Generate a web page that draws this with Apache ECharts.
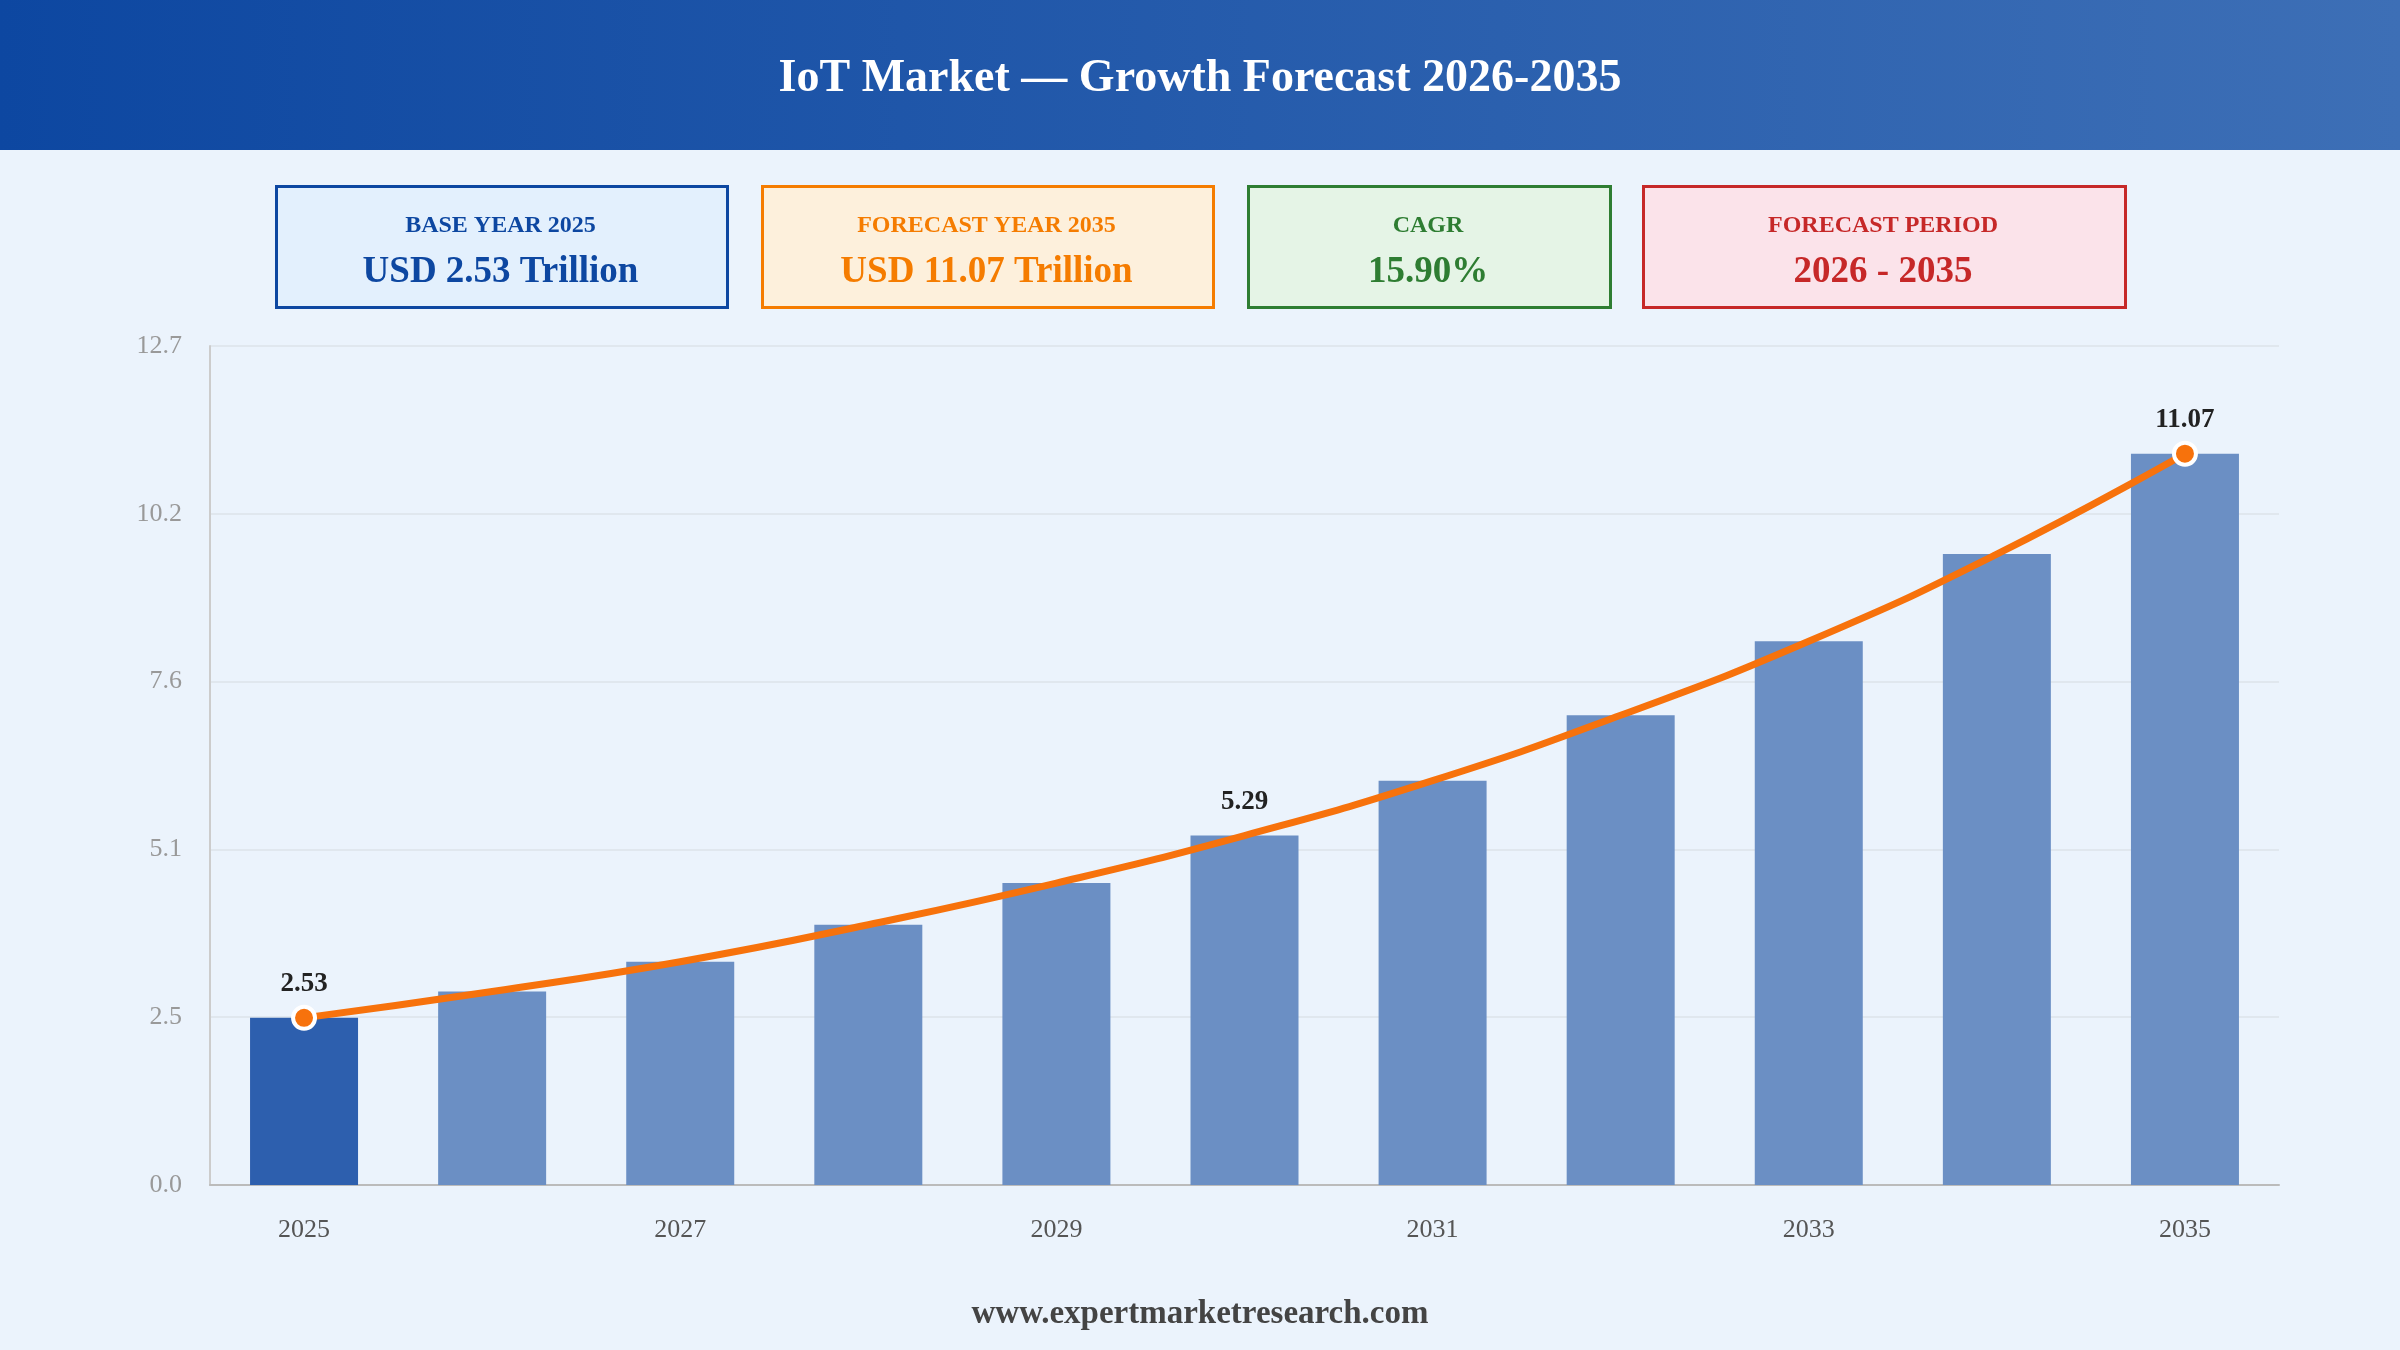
<!DOCTYPE html>
<html>
<head>
<meta charset="utf-8">
<style>html,body{margin:0;padding:0;background:#ebf3fc;}#main{width:2400px;height:1350px;}</style>
<script src="https://cdn.jsdelivr.net/npm/echarts@6/dist/echarts.min.js"></script>
</head>
<body>
<div id="main"></div>
<script>
var years = ['2025','2026','2027','2028','2029','2030','2031','2032','2033','2034','2035'];
var values = [2.53, 2.93, 3.38, 3.94, 4.57, 5.29, 6.12, 7.11, 8.23, 9.55, 11.07];
var labelled = [0, 5, 10];
var cards = [
  {title: 'BASE YEAR 2025', value: 'USD 2.53 Trillion', color: '#0d47a1', bg: '#e3f0fd', x: 275, w: 451},
  {title: 'FORECAST YEAR 2035', value: 'USD 11.07 Trillion', color: '#f57c00', bg: '#fdf0dc', x: 761, w: 451},
  {title: 'CAGR', value: '15.90%', color: '#2e7d32', bg: '#e5f4e6', x: 1247, w: 362},
  {title: 'FORECAST PERIOD', value: '2026 - 2035', color: '#c62828', bg: '#fbe3ea', x: 1642, w: 482}
];
var font = '"Liberation Serif", "DejaVu Serif", serif';

var graphics = [
  {type: 'rect', left: 0, top: 0, shape: {width: 2400, height: 150},
   style: {fill: new echarts.graphic.LinearGradient(0, 0, 1, 0, [{offset: 0, color: '#0d47a1'}, {offset: 1, color: '#3d6fb6'}])}},
  {type: 'text', left: 'center', top: 56, style: {text: 'IoT Market — Growth Forecast 2026-2035', fill: '#fff', font: 'bold 46px ' + font}},
  {type: 'text', left: 'center', top: 1298, style: {text: 'www.expertmarketresearch.com', fill: '#444', font: 'bold 33px ' + font}}
];
cards.forEach(function (c) {
  graphics.push({type: 'rect', left: c.x, top: 185, shape: {width: c.w, height: 121},
    style: {fill: c.bg, stroke: c.color, lineWidth: 3}});
  graphics.push({type: 'text', x: c.x + c.w / 2, y: 226, style: {text: c.title, fill: c.color, font: 'bold 24px ' + font, textAlign: 'center', textVerticalAlign: 'middle'}});
  graphics.push({type: 'text', x: c.x + c.w / 2, y: 272, style: {text: c.value, fill: c.color, font: 'bold 37px ' + font, textAlign: 'center', textVerticalAlign: 'middle'}});
});

var chart = echarts.init(document.getElementById('main'));
chart.setOption({
  backgroundColor: '#ebf3fc',
  graphic: graphics,
  grid: {left: 210, right: 121, top: 346, bottom: 165},
  xAxis: {
    type: 'category', data: years,
    axisTick: {show: false},
    axisLine: {lineStyle: {color: '#bbb', width: 2}},
    axisLabel: {interval: 1, color: '#555', fontSize: 26, fontFamily: font, margin: 32}
  },
  yAxis: {
    type: 'value', min: 0, max: 12.7, interval: 2.54,
    axisLine: {show: true, lineStyle: {color: '#ccc', width: 2}},
    splitLine: {lineStyle: {color: '#dde3ea', width: 1.5}},
    axisLabel: {color: '#999', fontSize: 26, fontFamily: font, margin: 28,
      formatter: function (v) { return v.toFixed(1); }}
  },
  series: [
    {
      type: 'bar', barWidth: 108, z: 1,
      data: values.map(function (v, i) {
        return {value: v, itemStyle: {color: i === 0 ? '#2d5fae' : '#6b8fc4'},
          label: {show: labelled.indexOf(i) >= 0}};
      }),
      label: {position: 'top', distance: 20, color: '#222', fontSize: 27, fontWeight: 'bold', fontFamily: font}
    },
    {
      type: 'line', smooth: true, z: 3,
      lineStyle: {color: '#f7720c', width: 7},
      symbol: 'circle', symbolSize: 22,
      itemStyle: {color: '#f7720c', borderColor: '#fff', borderWidth: 4},
      data: values.map(function (v, i) {
        return {value: v, symbolSize: (i === 0 || i === values.length - 1) ? 22 : 0};
      })
    }
  ]
});
</script>
</body>
</html>
